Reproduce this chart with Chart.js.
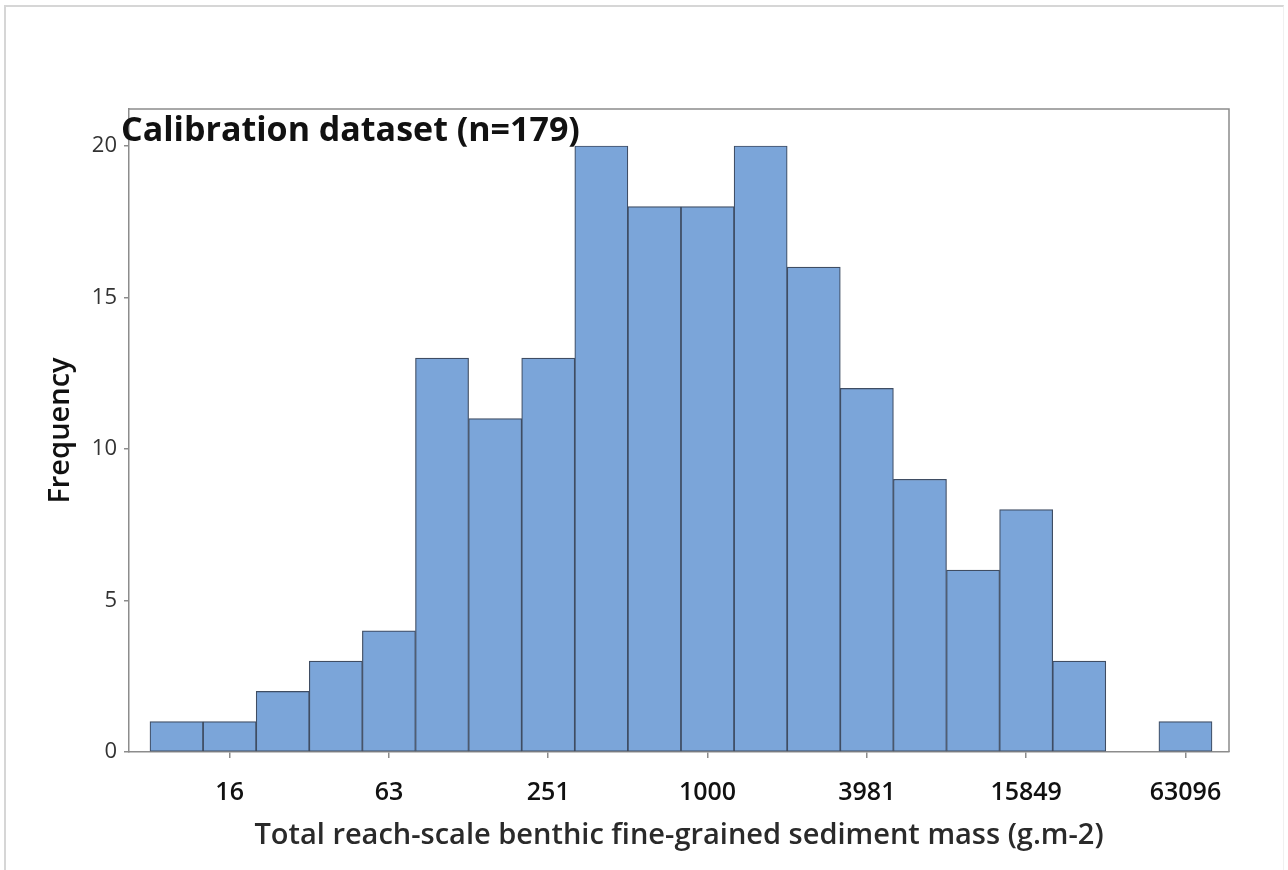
<!DOCTYPE html>
<html>
<head>
<meta charset="utf-8">
<script src="https://cdn.jsdelivr.net/npm/chart.js@4/dist/chart.umd.min.js"></script>
<style>
    body { margin: 0; background: #fff; }
    #wrap { position: relative; width: 1288px; height: 870px; }
    #frame {
        position: absolute; left: 4px; top: 5px; right: 4px; bottom: -2px;
        border-top: 2px solid #d6d6d6; border-left: 2px solid #d6d6d6; border-right: 1px solid #f0f0f0;
        pointer-events: none;
    }
</style>
</head>
<body>
<div id="wrap">
    <canvas id="hist" width="1288" height="870"></canvas>
    <div id="frame"></div>
</div>
<script>
// histogram bins on a log10 axis (bin centres), counts per bin
const binCenters = [1.0, 1.2, 1.4, 1.6, 1.8, 2.0, 2.2, 2.4, 2.6, 2.8, 3.0, 3.2, 3.4, 3.6, 3.8, 4.0, 4.2, 4.4, 4.6, 4.8];
const counts = [1, 1, 2, 3, 4, 13, 11, 13, 20, 18, 18, 20, 16, 12, 9, 6, 8, 3, 0, 1];
const xTickValues = [1.2, 1.8, 2.4, 3.0, 3.6, 4.2, 4.8];
const xTickLabels = ['16', '63', '251', '1000', '3981', '15849', '63096'];
const yTickValues = [0, 5, 10, 15, 20];
const titleText = 'Calibration dataset (n=179)';

const FONT = "'Open Sans', 'Noto Sans', sans-serif";

const framePlugin = {
    id: 'frame',
    afterDraw(chart) {
        const { ctx, chartArea: a } = chart;
        ctx.save();
        ctx.strokeStyle = '#8c8c8c';
        ctx.lineWidth = 1.5;
        ctx.beginPath();
        ctx.moveTo(a.left, a.top);
        ctx.lineTo(a.right, a.top);
        ctx.lineTo(a.right, a.bottom);
        ctx.stroke();
        // plot title sits over the top-left corner of the frame
        ctx.fillStyle = '#111';
        ctx.font = 'bold 34px ' + FONT;
        ctx.textBaseline = 'alphabetic';
        ctx.fillText(titleText, 121, 141);
        ctx.restore();
    }
};

const data = binCenters.map((x, i) => ({ x: x, y: counts[i] }));

new Chart(document.getElementById('hist'), {
    type: 'bar',
    data: {
        datasets: [{
            data: data,
            backgroundColor: '#7ba5d9',
            borderColor: '#3f4d63',
            borderWidth: 1.2,
            borderSkipped: false,
            barPercentage: 1,
            categoryPercentage: 1
        }]
    },
    options: {
        responsive: false,
        animation: false,
        events: [],
        layout: { padding: { left: 0, top: 109, right: 59, bottom: 0 } },
        plugins: { legend: { display: false }, tooltip: { enabled: false } },
        scales: {
            x: {
                type: 'linear',
                offset: false,
                min: 0.821,
                max: 4.964,
                afterBuildTicks: s => { s.ticks = xTickValues.map(v => ({ value: v })); },
                afterFit: s => { s.height = 870 - 752; },
                ticks: {
                    autoSkip: false,
                    maxRotation: 0,
                    padding: 20,
                    color: '#111',
                    font: { family: FONT, size: 25, weight: '600' },
                    callback: (v, i) => xTickLabels[i]
                },
                grid: { display: true, offset: false, drawOnChartArea: false, tickLength: 6, color: '#8c8c8c', lineWidth: 1.5 },
                border: { display: true, color: '#8c8c8c', width: 1.5 },
                title: {
                    display: true,
                    text: 'Total reach-scale benthic fine-grained sediment mass (g.m-2)',
                    color: '#2a2a2a',
                    font: { family: FONT, size: 29, weight: '600' },
                    padding: { top: 0, bottom: 17 }
                }
            },
            y: {
                min: 0,
                max: 21.22,
                afterBuildTicks: s => { s.ticks = yTickValues.map(v => ({ value: v })); },
                afterFit: s => { s.width = 129; },
                ticks: {
                    padding: 7,
                    color: '#333',
                    font: { family: FONT, size: 22 }
                },
                grid: { display: true, drawOnChartArea: false, tickLength: 5, color: '#8c8c8c', lineWidth: 1.5 },
                border: { display: true, color: '#8c8c8c', width: 1.5 },
                title: {
                    display: true,
                    text: 'Frequency',
                    color: '#111',
                    font: { family: FONT, size: 29, weight: '600' },
                    padding: { top: 43, bottom: 0 }
                }
            }
        }
    },
    plugins: [framePlugin]
});
</script>
</body>
</html>
